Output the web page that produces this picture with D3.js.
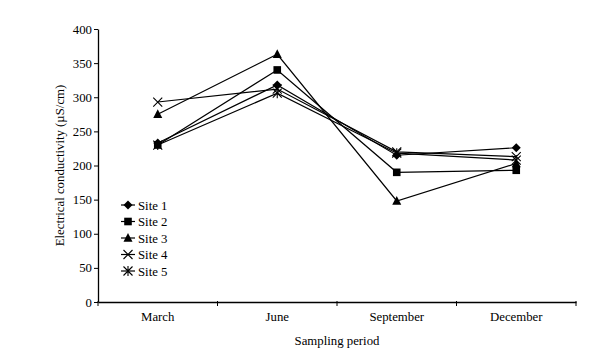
<!DOCTYPE html>
<html>
<head>
<meta charset="utf-8">
<script src="https://cdn.jsdelivr.net/npm/d3@7"></script>
<style>
  body { margin: 0; background: #fff; }
</style>
</head>
<body>
<div id="wrapper"></div>
<script>
// data
const months = ["March", "June", "September", "December"];
const siteNames = ["Site 1", "Site 2", "Site 3", "Site 4", "Site 5"];
const site1 = [233, 318, 215, 226];
const site2 = [230, 340, 190, 193];
const site3 = [275, 363, 148, 203];
const site4 = [293, 312, 220, 213];
const site5 = [230, 306, 218, 208];
const yTicks = [0, 50, 100, 150, 200, 250, 300, 350, 400];

const series = [site1, site2, site3, site4, site5];
const shapes = ["diamond", "square", "triangle", "cross", "star"];
const FONT = "'Liberation Serif', 'DejaVu Serif', serif";
const FS = "12.8px";

const W = 599, H = 352;
const m = { left: 98, right: 23, top: 29, bottom: 50 };

var svg = d3.select("#wrapper").append("svg").attr("width", W).attr("height", H)
  .style("font-family", FONT);

var x = d3.scaleBand().domain(months).range([m.left, W - m.right]);
var y = d3.scaleLinear().domain([0, 400]).range([H - m.bottom, m.top]);

// y axis
var yAx = svg.append("g").attr("transform", "translate(" + m.left + ",0)")
  .call(d3.axisLeft(y).tickValues(yTicks).tickSize(4).tickPadding(2).tickSizeOuter(0))
  .attr("font-family", null);
yAx.select(".domain").attr("stroke-width", 1.3);
yAx.selectAll("text").style("font-size", FS).style("font-family", FONT);

// x axis, ticks at category boundaries
var xAx = svg.append("g").attr("transform", "translate(0," + (H - m.bottom) + ")")
  .call(d3.axisBottom(x).tickSize(0).tickPadding(10).tickSizeOuter(0))
  .attr("font-family", null);
xAx.select(".domain").attr("stroke-width", 1.3);
xAx.selectAll("text").style("font-size", FS).style("font-family", FONT);
var bounds = months.map(d => x(d)).concat([x(months[months.length - 1]) + x.bandwidth()]);
xAx.selectAll(".bound").data(bounds).enter().append("line")
  .attr("x1", d => d).attr("x2", d => d).attr("y1", -1).attr("y2", 4)
  .attr("stroke", "#000").attr("stroke-width", 1);

svg.append("text").attr("x", (m.left + W - m.right) / 2).attr("y", 345)
  .attr("text-anchor", "middle").style("font-size", FS).style("font-family", FONT)
  .text("Sampling period");
svg.append("text").attr("transform", "translate(64," + ((m.top + H - m.bottom) / 2) + ") rotate(-90)")
  .attr("text-anchor", "middle").style("font-size", FS).style("font-family", FONT)
  .text("Electrical conductivity (\u00b5S/cm)");

const cx = d => x(d) + x.bandwidth() / 2;

function marker(g, shape) {
  if (shape === "diamond") g.append("path").attr("d", "M0,-4.5L4.5,0L0,4.5L-4.5,0Z").attr("fill", "#000");
  if (shape === "square") g.append("rect").attr("x", -3.8).attr("y", -3.8).attr("width", 7.6).attr("height", 7.6).attr("fill", "#000");
  if (shape === "triangle") g.append("path").attr("d", "M0,-5L4.5,3.8L-4.5,3.8Z").attr("fill", "#000");
  if (shape === "cross") g.append("path").attr("d", "M-4.5,-4.5L4.5,4.5M-4.5,4.5L4.5,-4.5").attr("stroke", "#000").attr("stroke-width", 1.1);
  if (shape === "star") g.append("path").attr("d", "M-4.5,-4.5L4.5,4.5M-4.5,4.5L4.5,-4.5M0,-5L0,5").attr("stroke", "#000").attr("stroke-width", 1.1);
}

var line = d3.line().x((d, i) => cx(months[i])).y(d => y(d));

series.forEach(function(vals, s) {
  svg.append("path").datum(vals).attr("d", line)
    .attr("fill", "none").attr("stroke", "#000").attr("stroke-width", 1.2);
  vals.forEach(function(v, i) {
    var g = svg.append("g").attr("transform", "translate(" + cx(months[i]) + "," + y(v) + ")");
    marker(g, shapes[s]);
  });
});

// legend
var leg = svg.append("g").attr("transform", "translate(128,205)");
siteNames.forEach(function(name, i) {
  var row = leg.append("g").attr("transform", "translate(0," + (i * 16.5) + ")");
  row.append("line").attr("x1", -7).attr("x2", 7).attr("stroke", "#000").attr("stroke-width", 1.2);
  marker(row, shapes[i]);
  row.append("text").attr("x", 10).attr("y", 4.5).style("font-size", FS).style("font-family", FONT).text(name);
});
</script>
</body>
</html>
